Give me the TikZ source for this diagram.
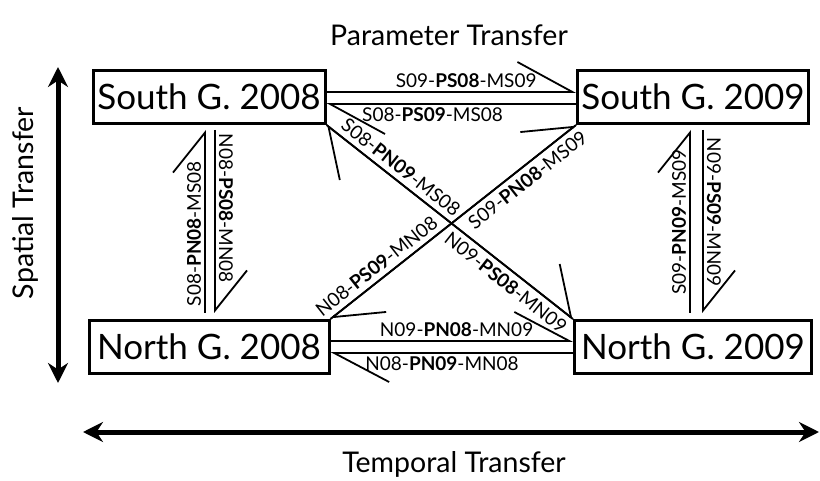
\documentclass[tikz,border=0pt]{standalone}
\usepackage{fontspec}
\setmainfont{Lato}
\usetikzlibrary{arrows.meta}

\newcommand{\trf}[3]{#1-\textbf{#2}-#3}

\tikzset{
  year/.style={draw, line width=3pt, minimum height=53pt, inner sep=0pt,
    font=\fontsize{35}{40}\selectfont},
  link/.style={line width=1.8pt},
  harp/.style 2 args={-{Straight Barb[left, length=#1, width=#2]}},
  lbl/.style={inner sep=0pt, sloped, font=\fontsize{19}{22}\selectfont},
  bigarrow/.style={line width=5pt,
    {Stealth[length=20pt, width=20pt]}-{Stealth[length=20pt, width=20pt]}},
  cat/.style={font=\fontsize{28.5}{33}\selectfont},
}

\begin{document}
\begin{tikzpicture}[x=1pt, y=-1pt]
  \useasboundingbox (0,0) rectangle (820,481);

  % the four regions / years
  \node[year, minimum width=232pt] (S08) at (209,97) {South G. 2008};
  \node[year, minimum width=231pt] (S09) at (693,97) {South G. 2009};
  \node[year, minimum width=240pt] (N08) at (209,347) {North G. 2008};
  \node[year, minimum width=237pt] (N09) at (693,347) {North G. 2009};

  % axes
  \coordinate (spTop) at (58,67);
  \coordinate (spBot) at (58,383);
  \draw[bigarrow] (spTop) -- (spBot);
  \node[cat, rotate=90] (spatial) at (25,203) {Spatial Transfer};

  \coordinate (tmL) at (83,432);
  \coordinate (tmR) at (819,432);
  \draw[bigarrow] (tmL) -- (tmR);
  \node[cat, anchor=base] (temporal) at (454,472) {Temporal Transfer};
  \node[cat, anchor=base] (parameter) at (449,46) {Parameter Transfer};

  % temporal transfer
  \draw[link, harp={55pt}{60pt}] ([yshift=5pt]S08.east) -- ([yshift=5pt]S09.west)
    node[lbl, pos=.56, above=3pt] {\trf{S09}{PS08}{MS09}};
  \draw[link, harp={55pt}{60pt}] ([yshift=-7pt]S09.west) -- ([yshift=-7pt]S08.east)
    node[lbl, pos=.575, below=3pt] {\trf{S08}{PS09}{MS08}};
  \draw[link, harp={55pt}{58pt}] ([yshift=6pt]N08.east) -- ([yshift=6pt]N09.west)
    node[lbl, pos=.52, above=3pt] {\trf{N09}{PN08}{MN09}};
  \draw[link, harp={55pt}{58pt}] ([yshift=-6pt]N09.west) -- ([yshift=-6pt]N08.east)
    node[lbl, pos=.54, below=3pt] {\trf{N08}{PN09}{MN08}};

  % spatial transfer
  \draw[link, harp={40pt}{64pt}, shorten <=6pt, shorten >=5pt]
    ([xshift=-4pt]N08.north) -- ([xshift=-4pt]S08.south)
    node[lbl, pos=.44, above=3pt] {\trf{S08}{PN08}{MS08}};
  \draw[link, harp={40pt}{64pt}, shorten <=5pt, shorten >=6pt]
    ([xshift=6pt]S08.south) -- ([xshift=6pt]N08.north)
    node[lbl, pos=.43, above=3pt] {\trf{N08}{PS08}{MN08}};
  \draw[link, harp={40pt}{64pt}, shorten <=6pt, shorten >=5pt]
    ([xshift=-3pt]N09.north) -- ([xshift=-3pt]S09.south)
    node[lbl, pos=.5, above=3pt] {\trf{S09}{PN09}{MS09}};
  \draw[link, harp={40pt}{64pt}, shorten <=5pt, shorten >=6pt]
    ([xshift=10pt]S09.south) -- ([xshift=10pt]N09.north)
    node[lbl, pos=.45, above=3pt] {\trf{N09}{PS09}{MN09}};

  % spatio-temporal transfer
  \draw[link, harp={42pt}{70pt}] (S08.south east) -- (N09.north west)
    node[lbl, pos=.76, below=5pt] {\trf{N09}{PS08}{MN09}};
  \draw[link, harp={42pt}{70pt}] (N09.north west) -- (S08.south east)
    node[lbl, pos=.73, above=5pt] {\trf{S08}{PN09}{MS08}};
  \draw[link, harp={45pt}{58pt}] (N08.north east) -- (S09.south west)
    node[lbl, pos=.77, below=5pt] {\trf{S09}{PN08}{MS09}};
  \draw[link, harp={45pt}{58pt}] (S09.south west) -- (N08.north east)
    node[lbl, pos=.78, above=5pt] {\trf{N08}{PS09}{MN08}};
\end{tikzpicture}
\end{document}
